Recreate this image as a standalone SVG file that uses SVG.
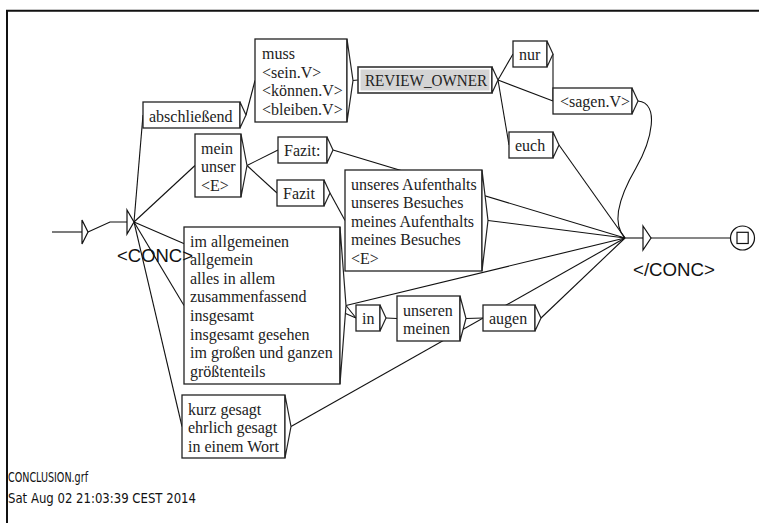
<svg xmlns="http://www.w3.org/2000/svg" width="759" height="523" viewBox="0 0 759 523">
  <style>
    .bx { fill: #fff; stroke: #222; stroke-width: 1.3; }
    .wg { fill: #fff; stroke: #222; stroke-width: 1.2; stroke-linejoin: miter; }
    .t { font-family: "Liberation Serif", "Times New Roman", serif; font-size: 16px; fill: #222; }
    .lbl { font-family: "Liberation Sans", Arial, sans-serif; font-size: 19px; fill: #111; }
    .foot { font-family: "DejaVu Sans", "Liberation Sans", sans-serif; font-size: 13.5px; fill: #111; }
    .e { fill: none; stroke: #111; stroke-width: 1.1; }
    .st { fill: #fff; stroke: #111; stroke-width: 1.2; }
  </style>

  <rect width="759" height="523" fill="#fff"/>
  <!-- frame -->
  <path d="M7,523 V10.8 H759" fill="none" stroke="#111" stroke-width="2"/>

  <!-- transitions -->
  <g id="connectors">
    <path class="e" d="M52,232 H82"/>
    <path class="e" d="M88,232 L110,222 H127"/>
    <path class="e" d="M134,222 L143,115"/>
    <path class="e" d="M134,222 L195,165.5"/>
    <path class="e" d="M134,222 L184,305.5"/>
    <path class="e" d="M134,222 L182,426.5"/>
    <path class="e" d="M134,222 L356,318"/>
    <path class="e" d="M246,115 L255,80.5"/>
    <path class="e" d="M353,80.5 L358,80"/>
    <path class="e" d="M498,80 L513,54"/>
    <path class="e" d="M498,80 L553,101"/>
    <path class="e" d="M498,80 L509,145"/>
    <path class="e" d="M553,54 L553,101"/>
    <path class="e" d="M638,101 C660,103 652,140 636,168 C622,192 610,222 625,238"/>
    <path class="e" d="M559,145 L625,238"/>
    <path class="e" d="M247,165.5 L278,150"/>
    <path class="e" d="M247,165.5 L277,193"/>
    <path class="e" d="M333,150 L625,238"/>
    <path class="e" d="M330,193 L345,220.5"/>
    <path class="e" d="M488,220.5 L625,238"/>
    <path class="e" d="M346,305.5 L625,238"/>
    <path class="e" d="M346,305.5 L356,318"/>
    <path class="e" d="M386,318 L397,318.5"/>
    <path class="e" d="M466,318.5 L483,318"/>
    <path class="e" d="M541,318 L625,238"/>
    <path class="e" d="M291,426.5 L625,238"/>
    <path class="e" d="M625,238 H643"/>
    <path class="e" d="M651,238 H730.5"/>
  </g>

  <!-- initial state -->
  <g id="initial">
    <polygon class="st" points="82,220 88,232 82,244"/>
  </g>

  <g id="abschliessend">
    <rect class="bx" x="143" y="102" width="97" height="26"/>
    <polygon class="wg" points="240,102 246,115 240,128"/>
    <text class="t" x="149" y="121.5">abschließend</text>
  </g>

  <g id="modal">
    <rect class="bx" x="255" y="39" width="92" height="83"/>
    <polygon class="wg" points="347,39 353,80.5 347,122"/>
    <text class="t" x="262" y="59">muss</text>
    <text class="t" x="262" y="77.6">&lt;sein.V&gt;</text>
    <text class="t" x="262" y="96.2">&lt;können.V&gt;</text>
    <text class="t" x="262" y="114.8">&lt;bleiben.V&gt;</text>
  </g>

  <g id="review-owner">
    <rect x="358" y="67" width="134" height="26" fill="#fff" stroke="#333" stroke-width="1.6"/>
    <rect x="360.5" y="69.5" width="129" height="21" fill="#d4d4d4"/>
    <polygon class="wg" points="492,67 498,80 492,93"/>
    <text class="t" x="365" y="86" fill="#333" textLength="122" lengthAdjust="spacingAndGlyphs">REVIEW_OWNER</text>
  </g>

  <g id="nur">
    <rect class="bx" x="513" y="41" width="34" height="26"/>
    <polygon class="wg" points="547,41 553,54 547,67"/>
    <text class="t" x="519" y="60">nur</text>
  </g>

  <g id="sagen">
    <rect class="bx" x="553" y="88" width="79" height="26"/>
    <polygon class="wg" points="632,88 638,101 632,114"/>
    <text class="t" x="560" y="107">&lt;sagen.V&gt;</text>
  </g>

  <g id="euch">
    <rect class="bx" x="509" y="132" width="44" height="26"/>
    <polygon class="wg" points="553,132 559,145 553,158"/>
    <text class="t" x="515" y="151">euch</text>
  </g>

  <g id="possessive">
    <rect class="bx" x="195" y="134" width="46" height="63"/>
    <polygon class="wg" points="241,134 247,165.5 241,197"/>
    <text class="t" x="201" y="153.5">mein</text>
    <text class="t" x="201" y="172.1">unser</text>
    <text class="t" x="201" y="190.7">&lt;E&gt;</text>
  </g>

  <g id="fazit-colon">
    <rect class="bx" x="278" y="137" width="49" height="26"/>
    <polygon class="wg" points="327,137 333,150 327,163"/>
    <text class="t" x="284" y="156">Fazit:</text>
  </g>

  <g id="fazit">
    <rect class="bx" x="277" y="180" width="47" height="26"/>
    <polygon class="wg" points="324,180 330,193 324,206"/>
    <text class="t" x="283" y="199">Fazit</text>
  </g>

  <g id="stay">
    <rect class="bx" x="345" y="170" width="137" height="101"/>
    <polygon class="wg" points="482,170 488,220.5 482,271"/>
    <text class="t" x="351" y="189.5">unseres Aufenthalts</text>
    <text class="t" x="351" y="208.1">unseres Besuches</text>
    <text class="t" x="351" y="226.7">meines Aufenthalts</text>
    <text class="t" x="351" y="245.3">meines Besuches</text>
    <text class="t" x="351" y="263.9">&lt;E&gt;</text>
  </g>

  <g id="adverbs">
    <rect class="bx" x="184" y="227" width="156" height="157"/>
    <polygon class="wg" points="340,227 346,305.5 340,384"/>
    <text class="t" x="190" y="246.5">im allgemeinen</text>
    <text class="t" x="190" y="265.1">allgemein</text>
    <text class="t" x="190" y="283.7">alles in allem</text>
    <text class="t" x="190" y="302.3">zusammenfassend</text>
    <text class="t" x="190" y="320.9">insgesamt</text>
    <text class="t" x="190" y="339.5">insgesamt gesehen</text>
    <text class="t" x="190" y="358.1">im großen und ganzen</text>
    <text class="t" x="190" y="376.7">größtenteils</text>
  </g>

  <g id="in">
    <rect class="bx" x="356" y="305" width="24" height="26"/>
    <polygon class="wg" points="380,305 386,318 380,331"/>
    <text class="t" x="362" y="324">in</text>
  </g>

  <g id="unseren">
    <rect class="bx" x="397" y="296" width="63" height="45"/>
    <polygon class="wg" points="460,296 466,318.5 460,341"/>
    <text class="t" x="403" y="315.5">unseren</text>
    <text class="t" x="403" y="334.1">meinen</text>
  </g>

  <g id="augen">
    <rect class="bx" x="483" y="305" width="52" height="26"/>
    <polygon class="wg" points="535,305 541,318 535,331"/>
    <text class="t" x="489" y="324">augen</text>
  </g>

  <g id="kurz">
    <rect class="bx" x="182" y="395" width="103" height="63"/>
    <polygon class="wg" points="285,395 291,426.5 285,458"/>
    <text class="t" x="188" y="414.5">kurz gesagt</text>
    <text class="t" x="188" y="433.1">ehrlich gesagt</text>
    <text class="t" x="188" y="451.7">in einem Wort</text>
  </g>

  <!-- opening tag: its label is painted over the neighbouring box -->
  <g id="conc-open">
    <polygon class="st" points="127,210 134,222 127,234"/>
    <text class="lbl" x="117" y="262" textLength="76" lengthAdjust="spacingAndGlyphs">&lt;CONC&gt;</text>
  </g>

  <!-- closing tag -->
  <g id="conc-close">
    <polygon class="st" points="643,226 651,238 643,250"/>
    <text class="lbl" x="633" y="276" textLength="82" lengthAdjust="spacingAndGlyphs">&lt;/CONC&gt;</text>
  </g>

  <!-- final state -->
  <g id="final">
    <circle class="st" cx="742.5" cy="238" r="12"/>
    <rect x="737" y="232.3" width="11.2" height="11.2" fill="none" stroke="#111" stroke-width="1.2"/>
  </g>

  <!-- file info -->
  <text class="foot" x="8" y="482" textLength="80" lengthAdjust="spacingAndGlyphs">CONCLUSION.grf</text>
  <text class="foot" x="8" y="503" textLength="188" lengthAdjust="spacingAndGlyphs">Sat Aug 02 21:03:39 CEST 2014</text>
</svg>
